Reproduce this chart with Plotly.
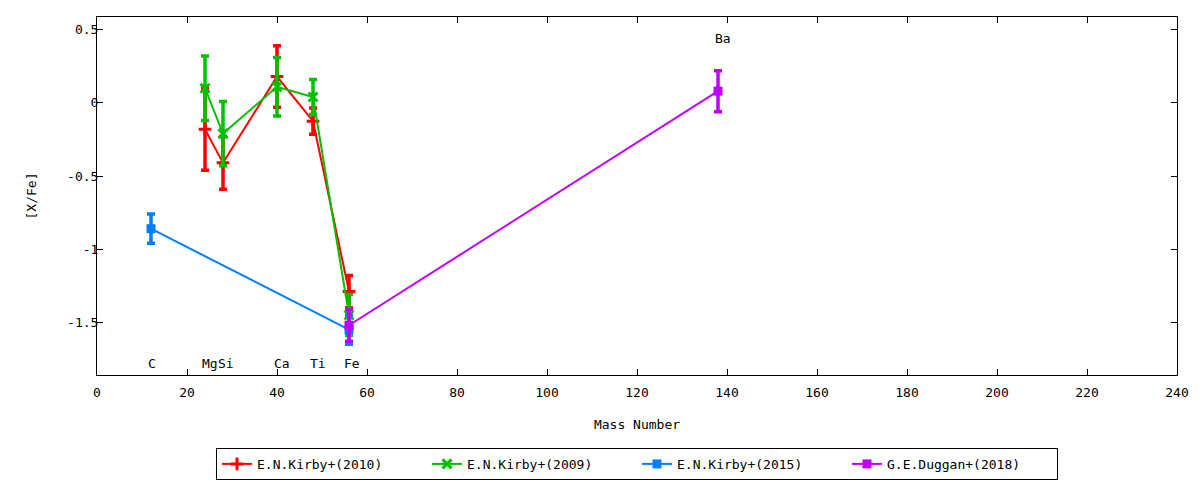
import plotly.graph_objects as go

# mass numbers of the elements
mass_kirby = [24, 28, 40, 48, 56]
mass_kirby15 = [12, 56]
mass_duggan = [56, 138]

# [X/Fe] values and errors
kirby2010_y = [-0.18, -0.41, 0.18, -0.125, -1.29]
kirby2010_err = [0.28, 0.18, 0.21, 0.09, 0.11]

kirby2009_y = [0.10, -0.21, 0.11, 0.04, -1.45]
kirby2009_err = [0.22, 0.22, 0.20, 0.12, 0.14]

kirby2015_y = [-0.86, -1.55]
kirby2015_err = [0.10, 0.10]

duggan2018_y = [-1.52, 0.08]
duggan2018_err = [0.11, 0.14]

# element labels
elem_names = ['C', 'Mg', 'Si', 'Ca', 'Ti', 'Fe', 'Ba']
elem_x = [12.2, 25.1, 28.7, 41.0, 49.2, 56.7, 139.0]
elem_y = [-1.78, -1.78, -1.78, -1.78, -1.78, -1.78, 0.44]

FONT = 'DejaVu Sans Mono'
FS = 13


def series(name, x, y, err, color, symbol, filled):
    marker = dict(symbol=symbol, size=9, color=color)
    if not filled:
        marker['line'] = dict(color=color, width=3)
    return go.Scatter(
        x=x, y=y, name=name, mode='lines+markers',
        line=dict(color=color, width=2),
        marker=marker,
        error_y=dict(type='data', array=err, visible=True,
                     color=color, thickness=3.5, width=4),
    )


fig = go.Figure()
fig.add_trace(series('E.N.Kirby+(2010)', mass_kirby, kirby2010_y, kirby2010_err,
                     '#ff0000', 'cross-thin', False))
fig.add_trace(series('E.N.Kirby+(2009)', mass_kirby, kirby2009_y, kirby2009_err,
                     '#00c000', 'x-thin', False))
fig.add_trace(series('E.N.Kirby+(2015)', mass_kirby15, kirby2015_y, kirby2015_err,
                     '#0080ff', 'square', True))
fig.add_trace(series('G.E.Duggan+(2018)', mass_duggan, duggan2018_y, duggan2018_err,
                     '#c000ff', 'square', True))

for name, x, y in zip(elem_names, elem_x, elem_y):
    fig.add_annotation(x=x, y=y, text=name, showarrow=False,
                       xanchor='center', yanchor='middle',
                       font=dict(family=FONT, size=FS, color='black'))

axis_style = dict(showline=True, linecolor='black', linewidth=1, mirror='allticks',
                  ticks='inside', ticklen=6, tickcolor='black', showgrid=False,
                  zeroline=False, automargin=False,
                  tickfont=dict(family=FONT, size=FS, color='black'))

fig.update_xaxes(range=[0, 240], dtick=20, ticklabelstandoff=5,
                 title=dict(text='Mass Number', standoff=21,
                            font=dict(family=FONT, size=FS, color='black')),
                 **axis_style)
fig.update_yaxes(range=[-1.86, 0.587], tickvals=[0.5, 0, -0.5, -1, -1.5],
                 ticktext=['0.5', '0', '-0.5', '-1', '-1.5'], ticklabelstandoff=-5,
                 title=dict(text='[X/Fe]', standoff=27,
                            font=dict(family=FONT, size=FS, color='black')),
                 **axis_style)

# the page body adds an 8px margin, so the figure is a little smaller than the window
fig.update_layout(
    width=1184, height=472,
    margin=dict(l=89, r=15, t=9, b=105),
    plot_bgcolor='white', paper_bgcolor='white',
    font=dict(family=FONT, size=FS, color='black'),
    legend=dict(orientation='h', x=0.5, xanchor='center',
                yref='container', y=0.034, yanchor='middle',
                bordercolor='black', borderwidth=1, entrywidth=165,
                entrywidthmode='pixels', font=dict(family=FONT, size=FS)),
)

fig.write_html("out.html")
